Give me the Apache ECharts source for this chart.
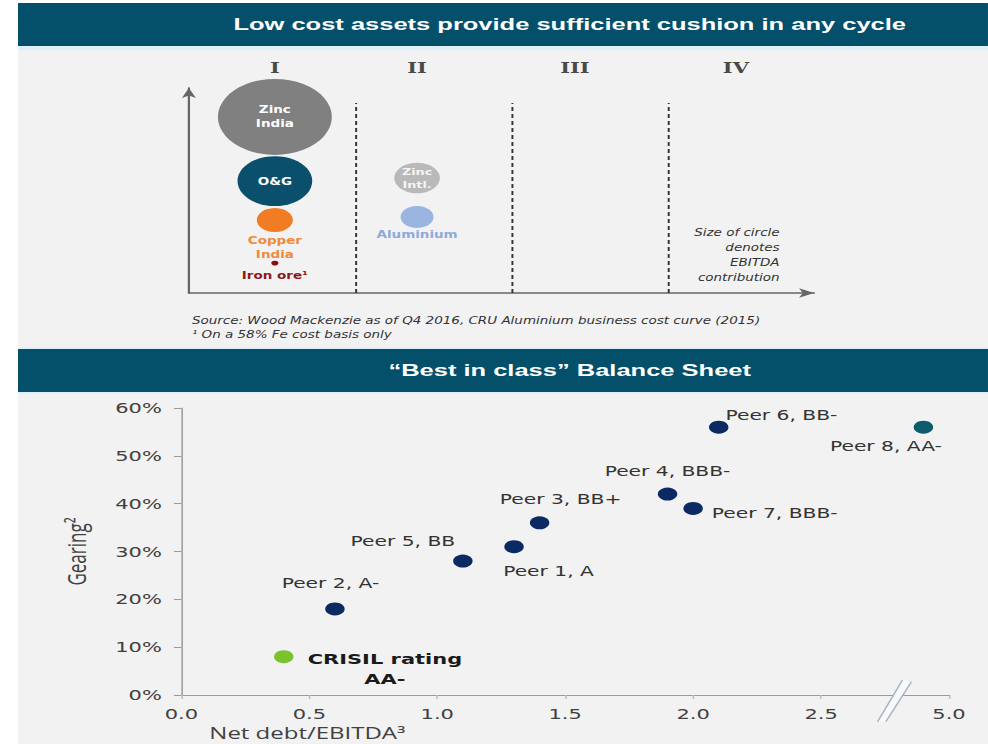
<!DOCTYPE html>
<html>
<head>
<meta charset="utf-8">
<script src="https://cdn.jsdelivr.net/npm/echarts@6.0.0/dist/echarts.min.js"></script>
<style>
html, body { margin: 0; padding: 0; background: #fff; overflow: hidden; }
/* the source picture is stretched sideways, so the chart is drawn narrow and widened */
#main { position: absolute; left: 0; top: 0; width: 659px; height: 744px; transform: scaleX(1.4992); transform-origin: 0 0; }
</style>
</head>
<body>
<div id="main"></div>
<script>
// top panel: cost curve quadrants
var quadrantNames = ['I', 'II', 'III', 'IV'];
var quadrantCentres = [0.55, 1.46, 2.47, 3.5];
var quadrantDividers = [1.07, 2.07, 3.07];
var assetLabels = ['Zinc\nIndia', 'O&G', 'Copper\nIndia', 'Iron ore\u00b9', 'Zinc\nIntl.', 'Aluminium'];
var assetQuadrant = [0.55, 0.55, 0.55, 0.55, 1.46, 1.46];
var assetLevel = [8.59, 5.46, 3.56, 1.46, 5.61, 3.71];
var assetEbitda = [100, 43, 10, 0.4, 16, 8.4]; // relative, Zinc India = 100

// bottom panel: balance sheet peers
var peerNames = ['CRISIL rating\nAA-', 'Peer 1, A', 'Peer 2, A-', 'Peer 3, BB+', 'Peer 4, BBB-',
  'Peer 5, BB', 'Peer 6, BB-', 'Peer 7, BBB-', 'Peer 8, AA-'];
var netDebtEbitda = [0.4, 1.3, 0.6, 1.4, 1.9, 1.1, 2.1, 2.0, 4.9];
var gearing = [8, 31, 18, 36, 42, 28, 56, 39, 56];
var xTicks = [0, 0.5, 1.0, 1.5, 2.0, 2.5, 5.0];
var xBreak = { start: 2.78, end: 4.82, gap: 0.04 };

var assetColors = ['#808080', '#0a4f6b', '#f07d24', '#8a0d0d', '#b9b9b9', '#9bb5e1'];
var labelFont = '"DejaVu Sans Condensed", "DejaVu Sans"';
var assetLabelStyle = [
  { position: 'inside', color: '#fff', lineHeight: 14 },
  { position: 'inside', color: '#fff' },
  { position: 'bottom', distance: 1, color: '#f08a3c', lineHeight: 14 },
  { position: 'bottom', distance: 5, color: '#8b1a1a' },
  { position: 'inside', color: '#f5f5f5', lineHeight: 13, fontSize: 9.5 },
  { position: 'bottom', distance: 2, color: '#8eaadb' }
];

var peerColors = ['#7cc22e', '#0b2a63', '#0b2a63', '#0b2a63', '#0b2a63', '#0b2a63', '#0b2a63', '#0b2a63', '#0d5c6e'];
var peerLabelStyle = [
  { position: 'right', align: 'center', offset: [56, 12], fontWeight: 'bold', fontSize: 14, color: '#1a1a1a', lineHeight: 20 },
  { position: 'bottom', offset: [23, 6] },
  { position: 'top', offset: [-3, -7] },
  { position: 'top', offset: [14, -5] },
  { position: 'top', offset: [0, -4] },
  { position: 'top', offset: [-40, -1] },
  { position: 'right', offset: [-7, -12] },
  { position: 'right', offset: [1, 5] },
  { position: 'bottom', offset: [-25, 1] }
];

var W = 647;
var chart = echarts.init(document.getElementById('main'), null, { renderer: 'svg' });

var graphics = [
  { type: 'rect', id: 'bar1', z: -10, shape: { x: 12, y: 3, width: W, height: 43 }, style: { fill: '#044f6a' } },
  { type: 'rect', id: 'rule1', z: -10, shape: { x: 12, y: 46, width: W, height: 4 }, style: { fill: '#dcf1f9' } },
  { type: 'rect', id: 'panel1', z: -10, shape: { x: 12, y: 50, width: W, height: 297 }, style: { fill: '#f2f2f2' } },
  { type: 'rect', id: 'rule2', z: -10, shape: { x: 12, y: 347, width: W, height: 2 }, style: { fill: '#dcf1f9' } },
  { type: 'rect', id: 'bar2', z: -10, shape: { x: 12, y: 349, width: W, height: 43 }, style: { fill: '#044f6a' } },
  { type: 'rect', id: 'rule3', z: -10, shape: { x: 12, y: 392, width: W, height: 2 }, style: { fill: '#dcf1f9' } },
  { type: 'rect', id: 'panel2', z: -10, shape: { x: 12, y: 394, width: W, height: 350 }, style: { fill: '#f2f2f2' } },
  { type: 'text', id: 'title1', x: 380, y: 24, style: { text: 'Low cost assets provide sufficient cushion in any cycle',
      fill: '#fff', fontFamily: 'Liberation Sans', fontWeight: 'bold', fontSize: 17, align: 'center', verticalAlign: 'middle' } },
  { type: 'text', id: 'title2', x: 380, y: 370, style: { text: '\u201cBest in class\u201d Balance Sheet',
      fill: '#fff', fontFamily: 'Liberation Sans', fontWeight: 'bold', fontSize: 17, align: 'center', verticalAlign: 'middle' } },
  { type: 'text', id: 'note', x: 520, y: 225, style: { text: 'Size of circle\ndenotes\nEBITDA\ncontribution',
      fill: '#333', fontFamily: labelFont, fontStyle: 'italic', fontSize: 10, lineHeight: 15, align: 'right', verticalAlign: 'top' } },
  { type: 'text', id: 'source', x: 128, y: 313, style: { text: 'Source: Wood Mackenzie as of Q4 2016, CRU Aluminium business cost curve (2015)\n\u00b9 On a 58% Fe cost basis only',
      fill: '#333', fontFamily: labelFont, fontStyle: 'italic', fontSize: 10, lineHeight: 14, align: 'left', verticalAlign: 'top' } }
];

var option = {
  animation: false,
  backgroundColor: '#ffffff',
  textStyle: { fontFamily: 'DejaVu Sans' },
  grid: [
    { left: 126, top: 88, width: 417, height: 205, outerBoundsMode: 'none' },
    { left: 121, top: 408, width: 512, height: 287, outerBoundsMode: 'none' }
  ],
  xAxis: [
    {
      gridIndex: 0, type: 'value', min: 0, max: 4,
      axisLine: { show: true, symbol: ['none', 'arrow'], symbolSize: [7, 10], lineStyle: { color: '#666', width: 1.5 } },
      axisTick: { show: false }, axisLabel: { show: false }, splitLine: { show: false }
    },
    {
      gridIndex: 1, type: 'value', min: 0, max: 5,
      breaks: [xBreak],
      breakArea: { show: false },
      axisLine: { show: true, lineStyle: { color: '#9a9a9a', width: 1 } },
      axisTick: { show: true, length: 4, customValues: xTicks, lineStyle: { color: '#bbbbbb' } },
      axisLabel: {
        color: '#404040', fontSize: 14, margin: 12, customValues: xTicks,
        formatter: function (v) { return v.toFixed(1); }
      },
      splitLine: { show: false },
      name: 'Net debt/EBITDA\u00b3', nameLocation: 'middle', nameGap: 30,
      nameTextStyle: { fontFamily: 'Open Sans', fontSize: 16, color: '#404040', padding: [0, 344, 0, 0] }
    }
  ],
  yAxis: [
    {
      gridIndex: 0, type: 'value', min: 0, max: 10,
      axisLine: { show: true, symbol: ['none', 'arrow'], symbolSize: [7, 10], lineStyle: { color: '#666', width: 1.5 } },
      axisTick: { show: false }, axisLabel: { show: false }, splitLine: { show: false }
    },
    {
      gridIndex: 1, type: 'value', min: 0, max: 60, interval: 10,
      axisLine: { show: true, lineStyle: { color: '#9a9a9a', width: 1 } },
      axisTick: { show: true, length: 5, lineStyle: { color: '#9a9a9a' } },
      axisLabel: { formatter: '{value}%', color: '#404040', fontSize: 14, margin: 13 },
      splitLine: { show: false },
      name: 'Gearing\u00b2', nameLocation: 'middle', nameGap: 62,
      nameTextStyle: { fontFamily: 'Open Sans', fontSize: 17, color: '#404040' }
    }
  ],
  series: quadrantDividers.map(function (d) {
    return {
      type: 'line', xAxisIndex: 0, yAxisIndex: 0, silent: true, symbol: 'none',
      data: [[d, 0], [d, 9.27]],
      lineStyle: { color: '#333', width: 1.3, type: [4, 3] }
    };
  }).concat([
    {
      type: 'scatter', xAxisIndex: 0, yAxisIndex: 0, silent: true, clip: false,
      symbol: 'circle', symbolSize: 1, itemStyle: { color: 'rgba(0,0,0,0)' },
      data: quadrantNames.map(function (n, i) { return { name: n, value: [quadrantCentres[i], 10.98] }; }),
      label: { show: true, position: 'inside', formatter: '{b}', color: '#1a1a1a',
        fontFamily: 'DejaVu Serif', fontWeight: 'bold', fontSize: 14 }
    },
    {
      type: 'scatter', xAxisIndex: 0, yAxisIndex: 0, silent: true,
      symbolSize: function (v, p) { return 7.6 * Math.sqrt(assetEbitda[p.dataIndex]); },
      itemStyle: { opacity: 1 },
      data: assetLabels.map(function (n, i) {
        return { name: n, value: [assetQuadrant[i], assetLevel[i]], itemStyle: { color: assetColors[i], opacity: 1 }, label: assetLabelStyle[i] };
      }),
      label: { show: true, formatter: '{b}', fontFamily: labelFont, fontWeight: 'bold', fontSize: 10 }
    },
    {
      type: 'scatter', xAxisIndex: 1, yAxisIndex: 1, silent: true, symbolSize: 13,
      itemStyle: { opacity: 1 },
      data: peerNames.map(function (n, i) {
        return { name: n, value: [netDebtEbitda[i], gearing[i]], itemStyle: { color: peerColors[i], opacity: 1 }, label: peerLabelStyle[i] };
      }),
      label: { show: true, formatter: '{b}', color: '#333', fontSize: 13.5, fontFamily: 'DejaVu Sans' }
    }
  ]),
  graphic: graphics
};

chart.setOption(option);

// break marks on the x axis, placed from the axis scale
var bx0 = chart.convertToPixel({ xAxisIndex: 1 }, xBreak.start);
var bx1 = chart.convertToPixel({ xAxisIndex: 1 }, xBreak.end);
var by = chart.convertToPixel({ yAxisIndex: 1 }, 0);
var cx = (bx0 + bx1) / 2;
graphics.push(
  { type: 'polygon', id: 'breakFill', z: 10, shape: { points: [[cx - 13.5, by + 26.7], [cx + 3.1, by - 15], [cx + 9.1, by - 13.3], [cx - 8, by + 26.7]] },
    style: { fill: '#f8f9fb' } },
  { type: 'line', id: 'break1', z: 11, shape: { x1: cx - 13.5, y1: by + 26.7, x2: cx + 3.1, y2: by - 15 }, style: { stroke: '#a3b3c7', lineWidth: 1 } },
  { type: 'line', id: 'break2', z: 11, shape: { x1: cx - 8, y1: by + 26.7, x2: cx + 9.1, y2: by - 13.3 }, style: { stroke: '#a3b3c7', lineWidth: 1 } }
);
chart.setOption({ graphic: graphics });
</script>
</body>
</html>
